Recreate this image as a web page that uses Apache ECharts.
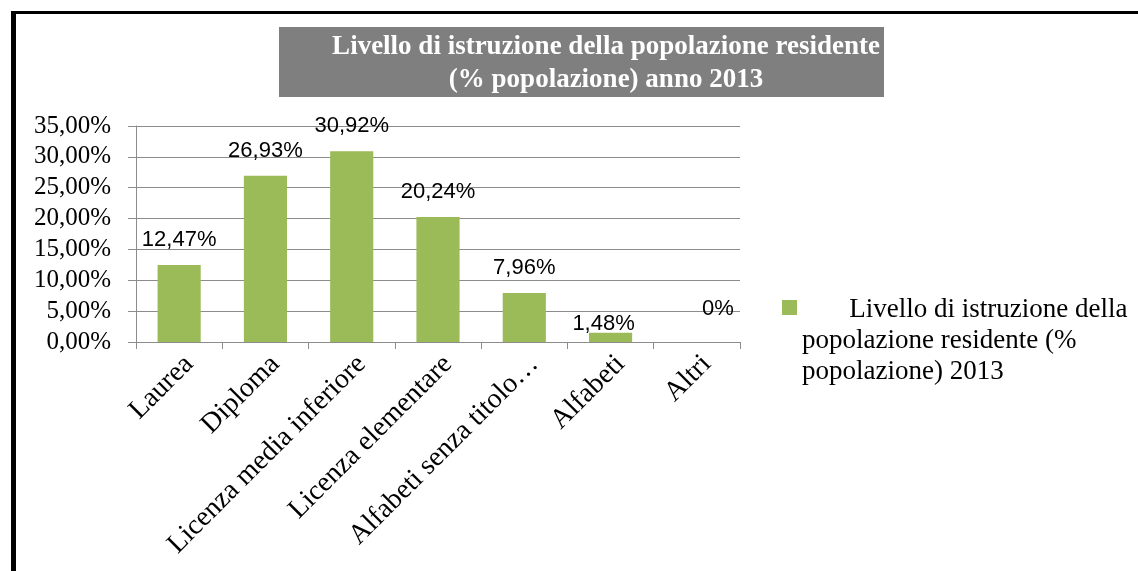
<!DOCTYPE html>
<html>
<head>
<meta charset="utf-8">
<script src="https://cdn.jsdelivr.net/npm/echarts@6/dist/echarts.min.js"></script>
<style>
  html, body { margin: 0; padding: 0; background: #fff; }
  #chart { width: 1138px; height: 571px; }
</style>
</head>
<body>
<div id="chart"></div>
<script>
  // dati (% popolazione)
  var categorie = ['Laurea', 'Diploma', 'Licenza media inferiore', 'Licenza elementare',
    'Alfabeti senza titolo…', 'Alfabeti', 'Altri'];
  var valori = [12.47, 26.93, 30.92, 20.24, 7.96, 1.48, 0];
  var etichette = ['12,47%', '26,93%', '30,92%', '20,24%', '7,96%', '1,48%', '0%'];
  var nomeSerie = 'Livello di istruzione della popolazione residente (% popolazione) 2013';

  var chart = echarts.init(document.getElementById('chart'));

  var serif = 'Liberation Serif';
  var grigio = '#8c8c8c';

  // le etichette di 1,48% e 0% sono spostate come nell'originale
  var dati = valori.map(function (v, i) {
    var item = { value: v };
    if (i === 5) item.label = { offset: [-7, 16] };
    if (i === 6) item.label = { offset: [21, -8] };
    return item;
  });

  chart.setOption({
    animation: false,
    backgroundColor: '#fff',
    title: {
      text: 'Livello di istruzione della popolazione residente\n(% popolazione) anno 2013',
      left: 606,
      top: 31,
      padding: 0,
      textAlign: 'center',
      textStyle: {
        fontFamily: serif,
        fontWeight: 'bold',
        fontSize: 27,
        lineHeight: 33,
        color: '#fff'
      }
    },
    graphic: [
      { type: 'rect', shape: { x: 279, y: 27, width: 605, height: 70 }, style: { fill: '#7f7f7f' }, z: -1 },
      { type: 'rect', shape: { x: 11, y: 11, width: 1127, height: 3 }, style: { fill: '#000' } },
      { type: 'rect', shape: { x: 11, y: 11, width: 5, height: 560 }, style: { fill: '#000' } }
    ],
    legend: {
      left: 782,
      top: 294,
      padding: 0,
      itemWidth: 15,
      itemHeight: 81,
      icon: 'path://M0,0L15,0L15,15L0,15Z M0,81L0,81',
      selectedMode: false,
      formatter: function () {
        return '       Livello di istruzione della\npopolazione residente (%\npopolazione) 2013';
      },
      textStyle: {
        fontFamily: serif,
        fontSize: 27,
        lineHeight: 31,
        color: '#000'
      }
    },
    grid: {
      left: 136,
      right: 398,
      top: 126,
      bottom: 229,
      containLabel: false
    },
    xAxis: {
      type: 'category',
      data: categorie,
      axisLine: { lineStyle: { color: grigio, width: 1 } },
      axisTick: { show: true, length: 7, lineStyle: { color: grigio } },
      axisLabel: {
        rotate: 45,
        margin: 8,
        interval: 0,
        verticalAlign: 'top',
        fontFamily: serif,
        fontSize: 28,
        color: '#000'
      }
    },
    yAxis: {
      type: 'value',
      min: 0,
      max: 35,
      interval: 5,
      axisLine: { show: true, lineStyle: { color: grigio, width: 1 } },
      axisTick: { show: true, length: 8, lineStyle: { color: grigio } },
      splitLine: { lineStyle: { color: grigio, width: 1 } },
      axisLabel: {
        margin: 25,
        fontFamily: serif,
        fontSize: 25,
        color: '#000',
        formatter: function (v) { return v.toFixed(2).replace('.', ',') + '%'; }
      }
    },
    series: [{
      name: nomeSerie,
      type: 'bar',
      data: dati,
      barWidth: '50%',
      itemStyle: { color: '#9bbb59' },
      label: {
        show: true,
        position: 'top',
        distance: 14,
        fontFamily: 'Liberation Sans',
        fontSize: 22,
        color: '#000',
        formatter: function (p) { return etichette[p.dataIndex]; }
      }
    }]
  });
</script>
</body>
</html>
